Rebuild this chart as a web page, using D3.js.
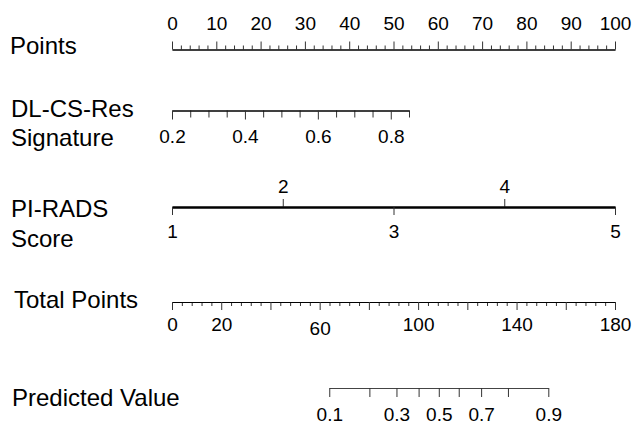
<!DOCTYPE html>
<html>
<head>
<meta charset="utf-8">
<script src="https://cdn.jsdelivr.net/npm/d3@7"></script>
<style>
  html, body { margin: 0; padding: 0; background: #fff; }
  svg { display: block; }
  text { font-family: "Liberation Sans", Arial, Helvetica, sans-serif; fill: #000; }
</style>
</head>
<body>
<svg id="chart" width="632" height="425"></svg>
<script>
// ---- Data ----
const rowLabels = [["Points"], ["DL-CS-Res", "Signature"], ["PI-RADS", "Score"], ["Total Points"], ["Predicted Value"]];

const pointsMajor = [0, 10, 20, 30, 40, 50, 60, 70, 80, 90, 100];
const pointsMinorStep = 2;

const dlDomain = [0.2, 0.85];          // DL-CS-Res Signature range
const dlPointsRange = [0, 53.5];       // points contributed at the ends
const dlLabels = [0.2, 0.4, 0.6, 0.8];
const dlTickStep = 0.05;

const piradsDomain = [1, 5];
const piradsPointsRange = [0, 100];
const piradsTop = [2, 4];
const piradsBottom = [1, 3, 5];

const totalDomain = [0, 180];
const totalLabels = [0, 20, 60, 100, 140, 180];
const totalMajorStep = 20;
const totalMinorStep = 4;

const predTicks = [0.1, 0.2, 0.3, 0.4, 0.5, 0.6, 0.7, 0.8, 0.9];
const predTotalPoints = [63.9, 80.2, 91.2, 100.2, 108.4, 116.5, 125.6, 136.5, 152.9];
const predLabels = [0.1, 0.3, 0.5, 0.7, 0.9];

// ---- Layout ----
const X0 = 172, X1 = 615;
const tickFont = 19, labelFont = 24;
const svg = d3.select("#chart");

const pointsScale = d3.scaleLinear().domain([0, 100]).range([X0, X1]);
const dlScale = d3.scaleLinear().domain(dlDomain).range(dlPointsRange.map(pointsScale));
const piradsScale = d3.scaleLinear().domain(piradsDomain).range(piradsPointsRange.map(pointsScale));
const totalScale = d3.scaleLinear().domain(totalDomain).range([X0, X1]);
const predScale = d3.scaleLinear().domain(predTicks).range(predTotalPoints.map(totalScale));

function styleAxis(g, strokeW) {
  g.select(".domain").attr("stroke", "#000").attr("stroke-width", strokeW || 1);
  g.selectAll(".tick line").attr("stroke", "#333").attr("stroke-width", 1);
  g.selectAll(".tick text").attr("font-size", tickFont).attr("font-family", "Liberation Sans, Arial, sans-serif").attr("fill", "#000");
  g.attr("font-size", null).attr("font-family", null);
}

// Row labels
const labelLines = [
  [{x: 10, y: 54}],
  [{x: 11, y: 117}, {x: 11, y: 146}],
  [{x: 11, y: 217}, {x: 11, y: 247}],
  [{x: 14, y: 308}],
  [{x: 12, y: 406}]
];
labelLines.forEach((lines, i) => {
  lines.forEach((l, j) => {
    svg.append("text").attr("x", l.x).attr("y", l.y)
      .attr("font-size", labelFont).text(rowLabels[i][j]);
  });
});

// ---- Points axis (ticks up) ----
const yPts = 49.5;
const pointsMinor = d3.range(0, 100 + 1e-9, pointsMinorStep).filter(v => v % 10 !== 0);
svg.append("g").attr("transform", `translate(0,${yPts})`)
  .call(d3.axisTop(pointsScale).tickValues(pointsMinor).tickSize(4).tickSizeOuter(0).tickFormat(""))
  .call(g => styleAxis(g));
svg.append("g").attr("transform", `translate(0,${yPts})`)
  .call(d3.axisTop(pointsScale).tickValues(pointsMajor).tickSize(8).tickSizeOuter(0).tickPadding(12).tickFormat(d3.format("d")))
  .call(g => styleAxis(g));

// ---- DL-CS-Res Signature axis (ticks down) ----
const yDL = 110.5;
const dlAll = d3.range(0, 14).map(i => +(dlDomain[0] + i * dlTickStep).toFixed(2));
svg.append("g").attr("transform", `translate(0,${yDL})`)
  .call(d3.axisBottom(dlScale).tickValues(dlAll.filter(v => !dlLabels.includes(v))).tickSize(7).tickSizeOuter(0).tickFormat(""))
  .call(g => styleAxis(g));
svg.append("g").attr("transform", `translate(0,${yDL})`)
  .call(d3.axisBottom(dlScale).tickValues(dlLabels).tickSize(9).tickSizeOuter(0).tickPadding(10).tickFormat(d3.format(".1f")))
  .call(g => styleAxis(g));

// ---- PI-RADS Score axis ----
const yPI = 207;
svg.append("g").attr("transform", `translate(0,${yPI})`)
  .call(d3.axisTop(piradsScale).tickValues(piradsTop).tickSize(8).tickSizeOuter(0).tickPadding(6).tickFormat(d3.format("d")))
  .call(g => styleAxis(g, 2));
svg.append("g").attr("transform", `translate(0,${yPI})`)
  .call(d3.axisBottom(piradsScale).tickValues(piradsBottom).tickSize(8).tickSizeOuter(0).tickPadding(10).tickFormat(d3.format("d")))
  .call(g => styleAxis(g, 2));

// ---- Total Points axis (ticks down) ----
const yTot = 302;
const totMinor = d3.range(0, 180 + 1e-9, totalMinorStep).filter(v => v % totalMajorStep !== 0);
const totMajor = d3.range(0, 180 + 1e-9, totalMajorStep);
svg.append("g").attr("transform", `translate(0,${yTot})`)
  .call(d3.axisBottom(totalScale).tickValues(totMinor).tickSize(4).tickSizeOuter(0).tickFormat(""))
  .call(g => styleAxis(g));
svg.append("g").attr("transform", `translate(0,${yTot})`)
  .call(d3.axisBottom(totalScale).tickValues(totMajor).tickSize(8).tickSizeOuter(0).tickPadding(8)
    .tickFormat(d => totalLabels.includes(d) ? d3.format("d")(d) : ""))
  .call(g => styleAxis(g))
  .call(g => g.selectAll(".tick text").filter(d => d === 60).attr("dy", "0.88em"));

// ---- Predicted Value axis (ticks down) ----
const yPred = 388;
svg.append("g").attr("transform", `translate(0,${yPred})`)
  .call(d3.axisBottom(predScale).tickValues(predTicks).tickSize(9).tickSizeOuter(0).tickPadding(11)
    .tickFormat(d => predLabels.includes(d) ? d3.format(".1f")(d) : ""))
  .call(g => styleAxis(g))
  .call(g => g.select(".domain").attr("stroke", "#444"));
</script>
</body>
</html>
